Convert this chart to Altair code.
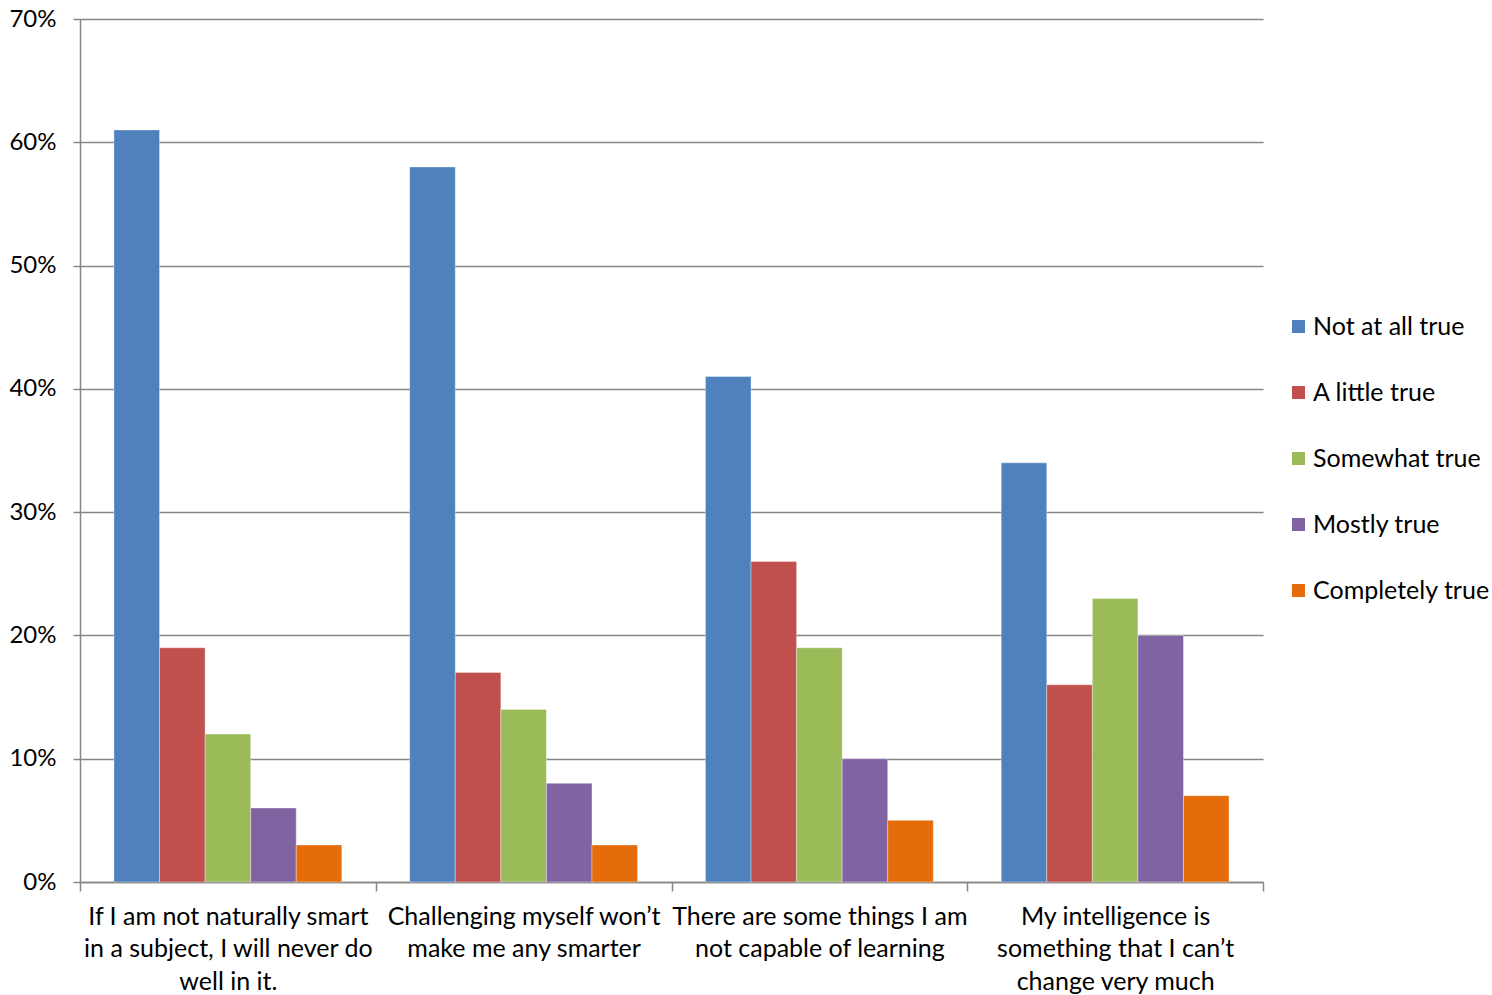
import altair as alt
import pandas as pd

# Survey statements (x categories), each label split over lines with "|"
statements = [
    "If I am not naturally smart|in a subject, I will never do|well in it.",
    "Challenging myself won\u2019t|make me any smarter",
    "There are some things I am|not capable of learning",
    "My intelligence is|something that I can\u2019t|change very much",
]

responses = ["Not at all true", "A little true", "Somewhat true", "Mostly true", "Completely true"]
colors = ["#4F81BD", "#C0504D", "#9BBB59", "#8064A2", "#E46C0A"]

# Share of respondents per response, one list per response, in statement order
not_at_all = [0.61, 0.58, 0.41, 0.34]
a_little = [0.19, 0.17, 0.26, 0.16]
somewhat = [0.12, 0.14, 0.19, 0.23]
mostly = [0.06, 0.08, 0.10, 0.20]
completely = [0.03, 0.03, 0.05, 0.07]

series = [not_at_all, a_little, somewhat, mostly, completely]

rows = []
for resp, vals in zip(responses, series):
    for stmt, v in zip(statements, vals):
        rows.append({"statement": stmt, "response": resp, "share": v})
df = pd.DataFrame(rows)

FONT = "Lato"
GRID = "#868686"

chart = (
    alt.Chart(df)
    .mark_bar(stroke="#ffffff", strokeOpacity=0.35, strokeWidth=1)
    .encode(
        x=alt.X(
            "statement:N",
            sort=statements,
            # bands fill each category slot so ticks land on slot boundaries
            scale=alt.Scale(paddingInner=0, paddingOuter=0),
            axis=alt.Axis(
                title=None,
                grid=False,
                labelAngle=0,
                labelExpr="split(datum.label, '|')",
                labelFont=FONT,
                labelFontSize=25,
                labelColor="#000000",
                labelLineHeight=32.5,
                labelPadding=13,
                labelBaseline="top",
                tickBand="extent",
                tickSize=9,
                tickColor=GRID,
                tickWidth=1.5,
                domainColor=GRID,
                domainWidth=1.5,
                labelLimit=400,
            ),
        ),
        # gap between groups comes from the offset scale's outer padding
        xOffset=alt.XOffset(
            "response:N",
            sort=responses,
            scale=alt.Scale(paddingInner=0, paddingOuter=0.745),
        ),
        y=alt.Y(
            "share:Q",
            scale=alt.Scale(domain=[0, 0.7], nice=False),
            axis=alt.Axis(
                title=None,
                format=".0%",
                values=[0, 0.1, 0.2, 0.3, 0.4, 0.5, 0.6, 0.7],
                labelFont=FONT,
                labelFontSize=24,
                labelColor="#000000",
                labelPadding=17,
                tickSize=7,
                tickColor=GRID,
                tickWidth=1.5,
                grid=True,
                gridColor=GRID,
                gridWidth=1.5,
                domainColor=GRID,
                domainWidth=1.5,
            ),
        ),
        color=alt.Color(
            "response:N",
            sort=responses,
            scale=alt.Scale(domain=responses, range=colors),
            legend=alt.Legend(
                title=None,
                orient="none",
                legendX=1206,
                legendY=295,
                symbolType="square",
                symbolSize=169,
                symbolStrokeWidth=0,
                labelFont=FONT,
                labelFontSize=25,
                labelColor="#000000",
                labelOffset=2,
                labelLimit=300,
                rowPadding=40,
            ),
        ),
    )
    .properties(
        width=1183,
        height=863,
        autosize=alt.AutoSizeParams(type="none"),
        padding={"left": 80, "top": 19, "right": 229, "bottom": 113},
    )
    .configure(background="#ffffff")
    .configure_view(stroke=None, strokeWidth=0)
)

chart.save("out.html", embed_options={"renderer": "svg", "actions": False})
